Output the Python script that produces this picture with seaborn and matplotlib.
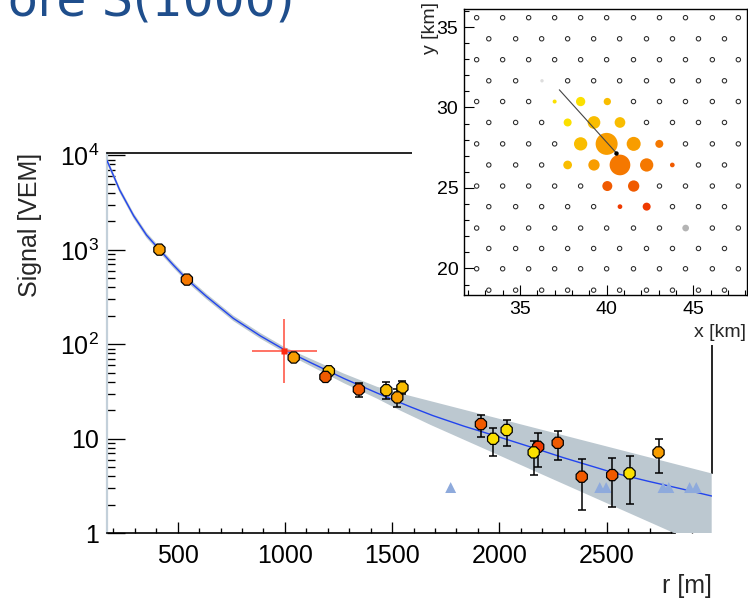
import matplotlib
matplotlib.use("Agg")
import matplotlib.pyplot as plt
from matplotlib.patches import Rectangle
from matplotlib.ticker import (FixedLocator, FixedFormatter, MultipleLocator,
                               LogLocator, NullFormatter)
import numpy as np
import pandas as pd
import seaborn as sns

sns.set_style("ticks")
plt.rcParams["font.family"] = ["Liberation Sans", "DejaVu Sans"]
plt.rcParams["mathtext.fontset"] = "custom"
plt.rcParams["mathtext.rm"] = "Liberation Sans"
plt.rcParams["mathtext.it"] = "Liberation Sans:italic"

# ---------------- lateral distribution data ----------------
# triggered stations: distance to shower axis [m], signal [VEM]
station_r = [415, 543, 1041, 1205, 1189, 1345, 1473, 1548, 1524, 1914,
             1971, 2034, 2181, 2160, 2272, 2384, 2526, 2607, 2742]
station_s = [1005, 484, 72.5, 51.9, 45.2, 33.3, 32.7, 34.9, 27.4, 14.3,
             10.0, 12.4, 8.23, 7.18, 9.07, 3.97, 4.13, 4.31, 7.18]
station_lo = [970, 465, 67, 48, 41.5, 27.8, 26.1, 29.5, 21.8, 10.5,
              6.56, 8.37, 4.99, 4.13, 5.96, 1.76, 1.91, 2.04, 4.31]
station_hi = [1040, 505, 78, 56, 49, 39, 39.5, 40.5, 33.5, 17.8,
              13.1, 16.0, 11.4, 9.5, 12.2, 6.06, 6.3, 6.56, 10.0]
station_class = ["O", "DO", "O", "YO", "RO", "RO", "YO", "YO", "O", "RO",
                 "Y", "Y", "R", "Y", "RO", "RO", "RO", "Y", "O"]

# stations below threshold (upper limits)
silent_r = [1773, 2468, 2498, 2763, 2790, 2887, 2918]
silent_s = [3.05, 3.05, 3.05, 3.05, 3.05, 3.05, 3.05]

# S(1000) estimate
s1000_r = 994
s1000 = 86
s1000_r_lo, s1000_r_hi = 848, 1150
s1000_lo, s1000_hi = 38.5, 184

# fitted lateral distribution function
ldf_r = [170, 230, 295, 355, 415, 480, 545, 635, 760, 885, 1000, 1120, 1275,
         1430, 1585, 1690, 1835, 1990, 2145, 2300, 2460, 2535, 2695, 2850, 2990]
ldf_s = [8870, 4280, 2290, 1430, 1005, 690, 484, 320, 188, 123, 87, 64, 43.5,
         30.5, 21.8, 17.6, 13.6, 10.6, 8.2, 6.3, 4.9, 4.35, 3.55, 2.95, 2.48]

# uncertainty band of the fit (upper and lower edges)
band_hi_r = [170, 230, 295, 355, 415, 480, 545, 635, 760, 885, 1000, 1120,
             1275, 1430, 1540, 2990]
band_hi_s = [9500, 4580, 2450, 1530, 1075, 738, 518, 342, 201, 132, 93, 70.2,
             49.0, 35.5, 30.2, 4.3]
band_lo_r = [170, 230, 295, 355, 415, 480, 545, 635, 760, 885, 1000, 1120,
             1275, 1430, 1540, 1680, 2817, 2990]
band_lo_s = [8250, 4000, 2140, 1335, 940, 645, 452, 299, 176, 115, 81.3, 58.9,
             38.8, 26.6, 19.8, 14.0, 1.0, 0.66]

# ---------------- array footprint data ----------------
grid_row_y = [35.58, 34.27, 32.97, 31.66, 30.37, 29.07, 27.74, 26.43,
              25.12, 23.84, 22.51, 21.24, 19.98, 18.65]
grid_long_x = [32.5, 34.0, 35.5, 37.0, 38.5, 40.0, 41.55, 43.05, 44.55, 46.1, 47.6]
grid_short_x = [33.2, 34.75, 36.25, 37.75, 39.25, 40.75, 42.3, 43.8, 45.3, 46.8]

hit_x = [37.0, 38.5, 40.04, 37.75, 39.27, 40.77, 38.5, 40.0, 41.56, 43.04,
         37.75, 39.27, 40.77, 42.31, 43.79, 40.04, 41.56, 40.77, 42.31]
hit_y = [30.37, 30.37, 30.37, 29.07, 29.07, 29.07, 27.74, 27.74, 27.74, 27.74,
         26.43, 26.43, 26.43, 26.43, 26.43, 25.12, 25.12, 23.84, 23.84]
hit_class = ["Y", "Y", "YO", "Y", "YO", "YO", "YO", "O", "O", "DO",
             "YO", "O", "DO", "DO", "RO", "RO", "RO", "R", "R"]
hit_diam = [4, 9.3, 7.3, 8, 12.7, 10.7, 13.3, 22, 14, 8,
            8.7, 11.3, 20.7, 13.3, 4.7, 10, 11.3, 4.7, 8]

bad_x, bad_y = [44.56], [22.51]
faint_x, faint_y = [36.27], [31.66]

axis_start = (37.27, 31.1)
core = (40.54, 27.2)

palette = {"Y": "#fbe000", "YO": "#f9bd00", "O": "#f89d00",
           "DO": "#f57800", "RO": "#f05a00", "R": "#ef3a00"}

# ---------------- figure ----------------
W, H = 748, 600
fig = plt.figure(figsize=(W / 100, H / 100), dpi=100)
fig.patch.set_facecolor("white")

ax = fig.add_axes([107.3 / W, (H - 533.3) / H, (711.7 - 107.3) / W,
                   (533.3 - 152.5) / H])
ax.set_facecolor("white")

band_x = np.r_[band_hi_r, band_lo_r[::-1]]
band_y = np.r_[band_hi_s, band_lo_s[::-1]]
ax.fill(band_x, band_y, color="#bcc8d0", lw=0, zorder=2.6)
sns.lineplot(x=ldf_r, y=ldf_s, ax=ax, color="#2244ee", lw=1.0,
             sort=False, estimator=None, zorder=2.7)

sns.scatterplot(x=silent_r, y=silent_s, ax=ax, marker="^", s=62,
                color="#8eaadc", edgecolor="none", zorder=3.0, legend=False)

lo_err = np.array(station_s) - np.array(station_lo)
hi_err = np.array(station_hi) - np.array(station_s)
ax.errorbar(station_r, station_s, yerr=[lo_err, hi_err], fmt="none",
            ecolor="black", elinewidth=1.1, capsize=3, capthick=1.1, zorder=3.2)

df = pd.DataFrame({"r": station_r, "s": station_s, "cls": station_class})
sns.scatterplot(data=df, x="r", y="s", hue="cls", palette=palette, ax=ax,
                marker="8", s=76, edgecolor="black", linewidth=0.9,
                legend=False, zorder=3.5)

ax.errorbar([s1000_r], [s1000],
            xerr=[[s1000_r - s1000_r_lo], [s1000_r_hi - s1000_r]],
            yerr=[[s1000 - s1000_lo], [s1000_hi - s1000]],
            fmt="s", ms=5, color="#ff2a10", mec="none", ecolor="#ff5a4a",
            elinewidth=1.2, capsize=0, zorder=3.4)

ax.set_yscale("log")
ax.set_xlim(172, 2990)
ax.set_ylim(1, 10 ** 4.03)
ax.xaxis.set_major_locator(FixedLocator([500, 1000, 1500, 2000, 2500]))
ax.xaxis.set_minor_locator(MultipleLocator(100))
ax.yaxis.set_major_locator(FixedLocator([1, 10, 100, 1000, 10000]))
ax.yaxis.set_major_formatter(FixedFormatter(
    ["1", "10", r"$10^2$", r"$10^3$", r"$10^4$"]))
ax.yaxis.set_minor_locator(LogLocator(base=10, subs=np.arange(2, 10)))
ax.yaxis.set_minor_formatter(NullFormatter())

ax.tick_params(axis="both", which="both", direction="in", width=0.95,
               colors="black", labelsize=18, top=False, right=False)
ax.tick_params(axis="y", which="major", length=13, pad=6)
ax.tick_params(axis="y", which="minor", length=5.8)
ax.tick_params(axis="x", which="major", length=7.9, pad=8)
ax.tick_params(axis="x", which="minor", length=3.6)

for side in ["top", "right", "bottom"]:
    ax.spines[side].set_color("black")
    ax.spines[side].set_linewidth(1.2)
ax.spines["right"].set_bounds(band_hi_s[-1], 10 ** 4.03)
ax.spines["bottom"].set_bounds(172, band_lo_r[-2])
ax.spines["left"].set_color("#c3d0da")
ax.spines["left"].set_linewidth(1.6)

ax.set_ylabel("Signal [VEM]", fontsize=18, loc="top")
ax.yaxis.set_label_coords(-0.108, 1.0)
ax.set_xlabel("r [m]", fontsize=18, loc="right")
ax.xaxis.set_label_coords(1.0, -0.108)

# white card behind the footprint panel
fig.patches.append(Rectangle((412 / W, (H - 345) / H), 1 - 412 / W, 345 / H,
                             transform=fig.transFigure, facecolor="white",
                             edgecolor="none", zorder=1))

# ---------------- array footprint ----------------
axi = fig.add_axes([464 / W, (H - 295) / H, 283 / W, 286 / H], zorder=3)
axi.set_facecolor("white")

gx, gy = [], []
for i, yrow in enumerate(grid_row_y):
    for xv in (grid_long_x if i % 2 == 0 else grid_short_x):
        gx.append(xv)
        gy.append(yrow)
special_x = hit_x + bad_x + faint_x
special_y = hit_y + bad_y + faint_y
keep = [k for k in range(len(gx))
        if min(np.hypot(gx[k] - sx, gy[k] - sy)
               for sx, sy in zip(special_x, special_y)) > 0.35]
sns.scatterplot(x=[gx[k] for k in keep], y=[gy[k] for k in keep], ax=axi,
                marker="o", s=10, facecolor="none", edgecolor="#2a2a2a",
                linewidth=0.75, legend=False, zorder=2)

sns.scatterplot(x=faint_x, y=faint_y, ax=axi, marker="o", s=6,
                color="#dddddd", edgecolor="none", legend=False, zorder=2)
sns.scatterplot(x=bad_x, y=bad_y, ax=axi, marker="o", s=(6.7 * 0.72) ** 2,
                color="#b4b4b4", edgecolor="none", legend=False, zorder=2)

hits = pd.DataFrame({"x": hit_x, "y": hit_y, "cls": hit_class,
                     "size": [(d * 0.72) ** 2 for d in hit_diam]})
for _, row in hits.iterrows():
    axi.scatter(row["x"], row["y"], s=row["size"], color=palette[row["cls"]],
                edgecolor="none", zorder=3)

axi.plot([axis_start[0], core[0]], [axis_start[1], core[1]],
         color="#444444", lw=0.8, zorder=4)
axi.plot([core[0]], [core[1]], marker="o", ms=2.2, color="black", zorder=4)

axi.set_xlim(31.77, 48.1)
axi.set_ylim(18.35, 36.12)
axi.xaxis.set_major_locator(MultipleLocator(5))
axi.xaxis.set_minor_locator(MultipleLocator(1))
axi.yaxis.set_major_locator(MultipleLocator(5))
axi.yaxis.set_minor_locator(MultipleLocator(1))
axi.tick_params(axis="both", which="both", direction="in", width=0.8,
                colors="black", labelsize=14, top=False, right=False)
axi.tick_params(axis="both", which="major", length=7, pad=4)
axi.tick_params(axis="both", which="minor", length=3.6)
for side in axi.spines:
    axi.spines[side].set_color("black")
    axi.spines[side].set_linewidth(1.0)

axi.set_xlabel("x [km]", fontsize=14, loc="right")
axi.xaxis.set_label_coords(0.995, -0.1)
axi.set_ylabel("y [km]", fontsize=14, loc="top")
axi.yaxis.set_label_coords(-0.09, 1.024)

# slide heading
fig.text(295 / W, (H - 15) / H, "ore S(1000)", ha="right", va="baseline",
         fontsize=35, color="#1f4e8c", family=["DejaVu Sans"])

fig.savefig("out.png", dpi=100, facecolor="white")
